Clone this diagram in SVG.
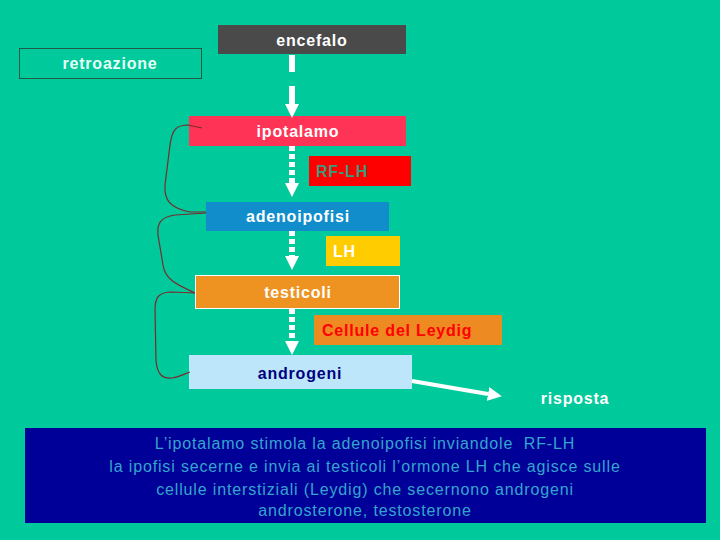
<svg xmlns="http://www.w3.org/2000/svg" width="720" height="540" viewBox="0 0 720 540">
<defs>
<style>
.lbl{font-family:"Liberation Sans",Arial,sans-serif;font-weight:bold;font-size:16px;letter-spacing:0.8px}
.body{font-family:"Liberation Sans",Arial,sans-serif;font-size:16px;fill:#33a6cc;letter-spacing:0.85px;white-space:pre}
.fb{fill:none;stroke:#7a2b2b;stroke-width:1.2}
.dash{stroke:#ffffff;stroke-width:6;stroke-dasharray:5 3;fill:none}
</style>
<marker id="ah" markerWidth="14" markerHeight="14" viewBox="0 0 14 14" refX="0" refY="7" orient="auto" markerUnits="userSpaceOnUse">
<path d="M0,0 L14,7 L0,14 Z" fill="#ffffff"/>
</marker>
</defs>
<rect width="720" height="540" fill="#00c99b"/>

<g id="retroazione">
<rect x="19.5" y="48.5" width="182" height="30" fill="none" stroke="#1e5a45" stroke-width="1"/>
<text class="lbl" x="110" y="69" text-anchor="middle" fill="#e6fff6">retroazione</text>
</g>
<g id="encefalo">
<rect x="218" y="25" width="188" height="29" fill="#4a4a4a"/>
<text class="lbl" x="312" y="46" text-anchor="middle" fill="#ffffff">encefalo</text>
</g>
<g id="ipotalamo">
<rect x="189" y="116" width="217" height="30" fill="#ff3355"/>
<text class="lbl" x="298" y="137" text-anchor="middle" fill="#ffffff">ipotalamo</text>
</g>
<g id="rflh">
<rect x="309" y="156" width="102" height="30" fill="#ff0000"/>
<text class="lbl" x="316" y="177" fill="#3a9a7a">RF-LH</text>
</g>
<g id="adenoipofisi">
<rect x="206" y="202" width="183" height="29" fill="#118dcc"/>
<text class="lbl" x="298" y="222" text-anchor="middle" fill="#ffffff">adenoipofisi</text>
</g>
<g id="lh">
<rect x="326" y="236" width="74" height="30" fill="#ffcc00"/>
<text class="lbl" x="333" y="257" fill="#ffffff">LH</text>
</g>
<g id="testicoli">
<rect x="195.5" y="275.5" width="204" height="33" fill="#ee9322" stroke="#ffffff" stroke-width="1"/>
<text class="lbl" x="298" y="298" text-anchor="middle" fill="#ffffff">testicoli</text>
</g>
<g id="leydig">
<rect x="314" y="315" width="188" height="30" fill="#ee8a22"/>
<text class="lbl" x="322" y="336" fill="#ff0000">Cellule del Leydig</text>
</g>
<g id="androgeni">
<rect x="189" y="355" width="223" height="34" fill="#bde6fb"/>
<text class="lbl" x="300" y="379" text-anchor="middle" fill="#000080">androgeni</text>
</g>
<g id="risposta">
<text class="lbl" x="575" y="404" text-anchor="middle" fill="#ffffff">risposta</text>
</g>

<g id="connectors">
<line x1="292" y1="55" x2="292" y2="72" stroke="#ffffff" stroke-width="6"/>
<line x1="292" y1="86" x2="292" y2="104" stroke="#ffffff" stroke-width="6" marker-end="url(#ah)"/>
<line class="dash" x1="292" y1="146" x2="292" y2="183" marker-end="url(#ah)"/>
<line class="dash" x1="292" y1="231" x2="292" y2="256" marker-end="url(#ah)"/>
<line class="dash" x1="292" y1="309" x2="292" y2="341" marker-end="url(#ah)"/>
<line x1="412" y1="381" x2="488" y2="394" stroke="#ffffff" stroke-width="4" marker-end="url(#ah)"/>
<path class="fb" d="M202,128 L188,125 C176,125 172,130 170,145 L165,185 C164,200 170,208 190,212 L206,212"/>
<path class="fb" d="M206,213 L175,215 C160,217 157,224 158,235 L163,265 C165,280 178,285 195,293"/>
<path class="fb" d="M195,293 L172,292 C158,292 155,298 155,310 L156,360 C157,375 163,379 172,378 C180,377 186,373 190,372"/>
</g>

<g id="note">
<rect x="25" y="428" width="681" height="95" fill="#000099"/>
<text class="body" text-anchor="middle" x="365" y="449">L’ipotalamo stimola la adenoipofisi inviandole  RF-LH</text>
<text class="body" text-anchor="middle" x="365" y="472">la ipofisi secerne e invia ai testicoli l’ormone LH che agisce sulle</text>
<text class="body" text-anchor="middle" x="365" y="495">cellule interstiziali (Leydig) che secernono androgeni</text>
<text class="body" text-anchor="middle" x="365" y="516">androsterone, testosterone</text>
</g>
</svg>
